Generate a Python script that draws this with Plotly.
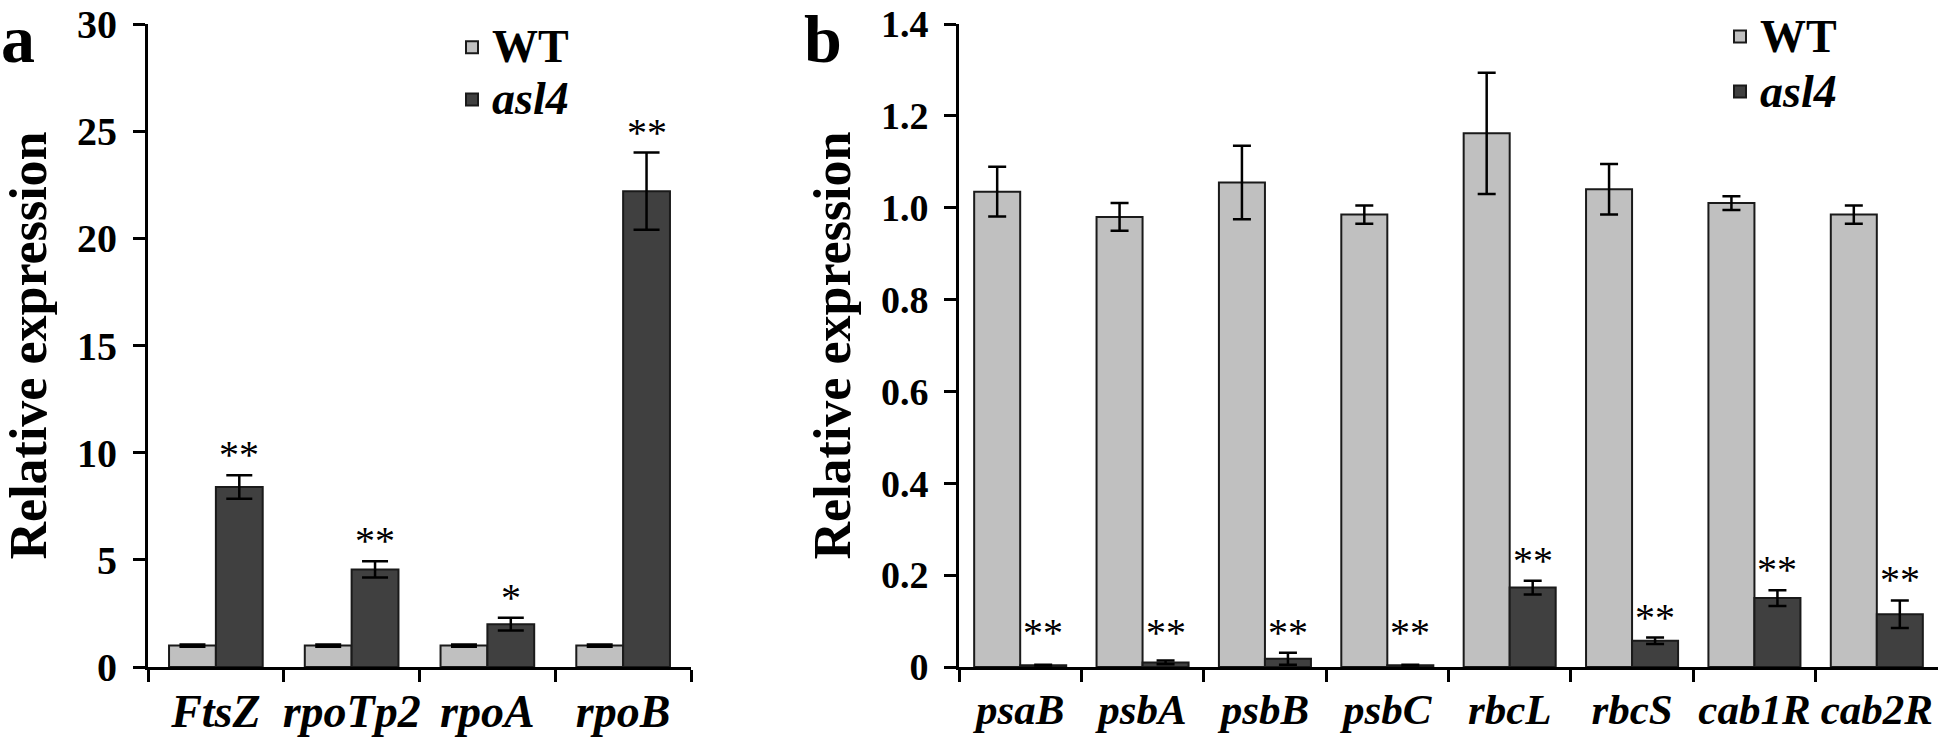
import numpy as np
import plotly.graph_objects as go

# ---------------- data ----------------
genes_a = ["FtsZ", "rpoTp2", "rpoA", "rpoB"]
wt_a = [1.0, 1.0, 1.0, 1.0]
wt_a_err = [0.05, 0.05, 0.05, 0.05]
asl4_a = [8.4, 4.55, 2.0, 22.2]
asl4_a_err = [0.55, 0.38, 0.3, 1.8]
sig_a = ["**", "**", "*", "**"]
yticks_a = [0, 5, 10, 15, 20, 25, 30]

genes_b = ["psaB", "psbA", "psbB", "psbC", "rbcL", "rbcS", "cab1R", "cab2R"]
wt_b = [1.035, 0.98, 1.055, 0.985, 1.162, 1.04, 1.01, 0.985]
wt_b_err = [0.054, 0.03, 0.08, 0.02, 0.132, 0.055, 0.015, 0.02]
asl4_b = [0.004, 0.01, 0.018, 0.004, 0.173, 0.057, 0.15, 0.115]
asl4_b_err = [0.001, 0.004, 0.013, 0.001, 0.015, 0.007, 0.017, 0.03]
sig_b = ["**"] * 8
yticks_b = [0, 0.2, 0.4, 0.6, 0.8, 1.0, 1.2, 1.4]
yticklabels_b = ["0", "0.2", "0.4", "0.6", "0.8", "1.0", "1.2", "1.4"]

# ---------------- style ----------------
FONT = "Liberation Serif, Times New Roman, serif"
WT_COLOR = "#c0c0c0"
ASL_COLOR = "#404040"
W, H = 1946, 737
LEG_TXT = "<span style='font-size:46px'>{}</span>"

fig = go.Figure()


def add_panel(genes, wt, wt_err, mu, mu_err, xa, ya, bw, cap, legend):
    err_style = dict(type="data", color="black", thickness=2.5, width=cap, visible=True)
    fig.add_trace(go.Bar(
        x=genes, y=wt, name=LEG_TXT.format("<b>WT</b>"), legend=legend,
        marker=dict(color=WT_COLOR, line=dict(color="#1a1a1a", width=2)),
        error_y=dict(array=wt_err, **err_style),
        width=bw, offset=-bw, xaxis=xa, yaxis=ya,
    ))
    fig.add_trace(go.Bar(
        x=genes, y=mu, name=LEG_TXT.format("<b><i>asl4</i></b>"), legend=legend,
        marker=dict(color=ASL_COLOR, line=dict(color="#1a1a1a", width=2)),
        error_y=dict(array=mu_err, **err_style),
        width=bw, offset=0, xaxis=xa, yaxis=ya,
    ))


BW_A, BW_B = 0.345, 0.376
add_panel(genes_a, wt_a, wt_a_err, asl4_a, asl4_a_err, "x", "y", BW_A, 13, "legend")
add_panel(genes_b, wt_b, wt_b_err, asl4_b, asl4_b_err, "x2", "y2", BW_B, 9, "legend2")

annotations = []
STAR_FONT = dict(family=FONT, size=40, color="black")
# significance stars, placed above the asl4 error bars
top_a = np.array(asl4_a) + np.array(asl4_a_err)
for i, (s, t) in enumerate(zip(sig_a, top_a)):
    annotations.append(dict(x=i + BW_A / 2, y=t, xref="x", yref="y", text=s,
                            showarrow=False, yanchor="bottom", yshift=-4, font=STAR_FONT))
top_b = np.maximum(np.array(asl4_b) + np.array(asl4_b_err), 0.03)
for i, (s, t) in enumerate(zip(sig_b, top_b)):
    annotations.append(dict(x=i + BW_B / 2, y=t, xref="x2", yref="y2", text=s,
                            showarrow=False, yanchor="bottom", yshift=-4, font=STAR_FONT))
# panel letters
annotations.append(dict(x=0, y=1.0, xref="paper", yref="paper", text="<b>a</b>",
                        showarrow=False, xanchor="left", yanchor="top", borderpad=0,
                        font=dict(family=FONT, size=68, color="black")))
annotations.append(dict(x=803 / W, y=1.0, xref="paper", yref="paper", text="<b>b</b>",
                        showarrow=False, xanchor="left", yanchor="top", borderpad=0,
                        font=dict(family=FONT, size=68, color="black")))

y_dom = [(H - 667) / H, (H - 24) / H]

xcommon = dict(type="category", tickson="boundaries", ticks="outside", ticklen=12,
               tickwidth=3, tickcolor="black", showline=True, linewidth=3, linecolor="black",
               showgrid=False, zeroline=False, ticklabelstandoff=2, tickangle=0,
               automargin=False)
ycommon = dict(ticks="outside", ticklen=12, tickwidth=3, tickcolor="black",
               showline=True, linewidth=3, linecolor="black", showgrid=False, zeroline=False,
               ticklabelstandoff=8, automargin=False, tickmode="array")
TITLE_FONT = dict(family=FONT, size=52, color="black")

fig.update_layout(
    width=W, height=H,
    margin=dict(l=0, r=0, t=0, b=0, pad=0, autoexpand=False),
    paper_bgcolor="white", plot_bgcolor="white",
    barmode="overlay",
    xaxis=dict(domain=[148 / W, 691 / W], anchor="y", range=[-0.5, 3.5],
               categoryorder="array", categoryarray=genes_a,
               tickfont=dict(family=FONT, size=46, color="black", weight="bold", style="italic"),
               **xcommon),
    yaxis=dict(domain=y_dom, anchor="x", range=[0, 30], tickvals=yticks_a,
               ticktext=[str(v) for v in yticks_a],
               tickfont=dict(family=FONT, size=40, color="black", weight="bold"),
               title=dict(text="<b>Relative expression</b>", standoff=18, font=TITLE_FONT),
               **ycommon),
    xaxis2=dict(domain=[959 / W, 1938 / W], anchor="y2", range=[-0.5, 7.5],
                categoryorder="array", categoryarray=genes_b,
                tickfont=dict(family=FONT, size=43, color="black", weight="bold", style="italic"),
                **xcommon),
    yaxis2=dict(domain=y_dom, anchor="x2", range=[0, 1.4], tickvals=yticks_b,
                ticktext=yticklabels_b,
                tickfont=dict(family=FONT, size=38, color="black", weight="bold"),
                title=dict(text="<b>Relative expression</b>", standoff=14, font=TITLE_FONT),
                **ycommon),
    legend=dict(x=452 / W, y=1 - 16 / H, xanchor="left", yanchor="top",
                font=dict(family=FONT, size=38, color="black"), bgcolor="rgba(0,0,0,0)",
                itemclick=False, itemdoubleclick=False),
    legend2=dict(x=1720 / W, y=1 - 4 / H, xanchor="left", yanchor="top",
                 font=dict(family=FONT, size=40, color="black"), bgcolor="rgba(0,0,0,0)",
                 itemclick=False, itemdoubleclick=False),
    annotations=annotations,
    showlegend=True,
)

fig.write_html("out.html", config={"displayModeBar": False},
               post_script="document.body.style.margin='0';")
